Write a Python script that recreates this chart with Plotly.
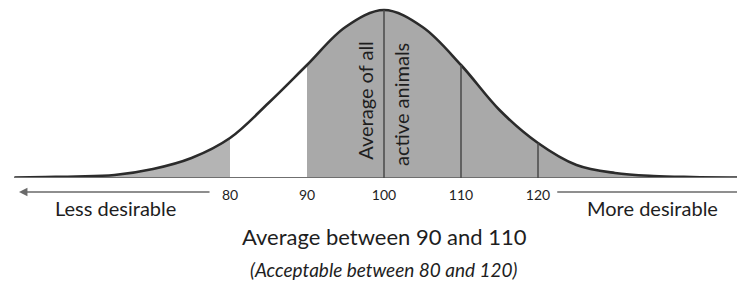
import plotly.graph_objects as go

# Values (relative curve height at each score)
scores = [52, 56, 60, 65, 70, 75, 80, 85, 90, 95, 100, 105, 110, 115, 120, 125, 130, 135, 140, 146]
heights = [0.5, 1, 1.5, 3, 9, 20, 40, 75, 113, 151, 168, 151, 113, 68, 35, 13, 5, 2, 1, 0.5]
tick_vals = [80, 90, 100, 110, 120]
tick_text = ["80", "90", "100", "110", "120"]
marker_lines = [100, 110, 120]
low_cut, acc_low = 80, 90

FONT = "Lato"
PLOT_H = 178.0


def py(pixel_y):
    """paper y coordinate for a pixel row (plot area spans rows 0..178)"""
    return (PLOT_H - pixel_y) / PLOT_H


i80 = scores.index(low_cut)
i90 = scores.index(acc_low)

fig = go.Figure()
fig.add_trace(go.Scatter(x=scores[:i80 + 1], y=heights[:i80 + 1], mode="lines",
                         line=dict(width=0, shape="spline", color="#b4b4b4"),
                         fill="tozeroy", fillcolor="#b4b4b4", hoverinfo="skip"))
fig.add_trace(go.Scatter(x=scores[i90:], y=heights[i90:], mode="lines",
                         line=dict(width=0, shape="spline", color="#a9a9a9"),
                         fill="tozeroy", fillcolor="#a9a9a9", hoverinfo="skip"))
fig.add_trace(go.Scatter(x=scores, y=heights, mode="lines",
                         line=dict(width=2.6, shape="spline", color="#2b2b2b"),
                         hoverinfo="skip"))

shapes = [dict(type="line", xref="x", yref="y", x0=scores[0], x1=scores[-1], y0=0, y1=0,
               line=dict(color="#6f6f6f", width=2))]
for v in marker_lines:
    h = heights[scores.index(v)]
    shapes.append(dict(type="line", xref="x", yref="y", x0=v, x1=v, y0=0, y1=h,
                       line=dict(color="#4a4a4a", width=1.5)))

# arrow lines below the axis (paper y so they are not clipped)
shapes.append(dict(type="line", xref="x", yref="paper", x0=122.5, x1=147, y0=py(192), y1=py(192),
                   line=dict(color="#6a6a6a", width=1.4)))

dark = "#1e1e1e"
annotations = [
    dict(x=52.6, y=py(192), ax=192, ay=0, xref="x", yref="paper", axref="pixel", ayref="pixel",
         showarrow=True, arrowhead=2, arrowsize=1.2, arrowwidth=1.4, arrowcolor="#6a6a6a", text=""),
    dict(x=65.1, y=py(222), xref="x", yref="paper", text="Less desirable", showarrow=False,
         font=dict(family=FONT, size=20, color=dark)),
    dict(x=134.9, y=py(222), xref="x", yref="paper", text="More desirable", showarrow=False,
         font=dict(family=FONT, size=20, color=dark)),
    dict(x=100, y=py(252), xref="x", yref="paper", text="Average between 90 and 110", showarrow=False,
         font=dict(family=FONT, size=22, color=dark)),
    dict(x=100, y=py(283), xref="x", yref="paper", text="<i>(Acceptable between 80 and 120)</i>",
         showarrow=False, font=dict(family=FONT, size=19, color=dark)),
    dict(x=97.5, y=py(100), xref="x", yref="paper", text="Average of all", textangle=-90, showarrow=False,
         font=dict(family=FONT, size=20, color=dark)),
    dict(x=102.2, y=py(104), xref="x", yref="paper", text="active animals", textangle=-90, showarrow=False,
         font=dict(family=FONT, size=20, color=dark)),
]

fig.update_layout(
    width=737, height=284,
    margin=dict(l=0, r=0, t=0, b=106, pad=0),
    paper_bgcolor="white", plot_bgcolor="white",
    showlegend=False,
    shapes=shapes, annotations=annotations,
    xaxis=dict(range=[100 - 384 / 7.7, 100 + 353 / 7.7], showgrid=False, zeroline=False,
               showline=False, tickmode="array", tickvals=tick_vals, ticktext=tick_text,
               ticks="", ticklabelstandoff=7,
               tickfont=dict(family=FONT, size=14, color=dark)),
    yaxis=dict(range=[0, PLOT_H], visible=False, showgrid=False, zeroline=False),
)

fig.write_html("out.html", config={"displayModeBar": False},
               post_script="document.body.style.margin='0';")
